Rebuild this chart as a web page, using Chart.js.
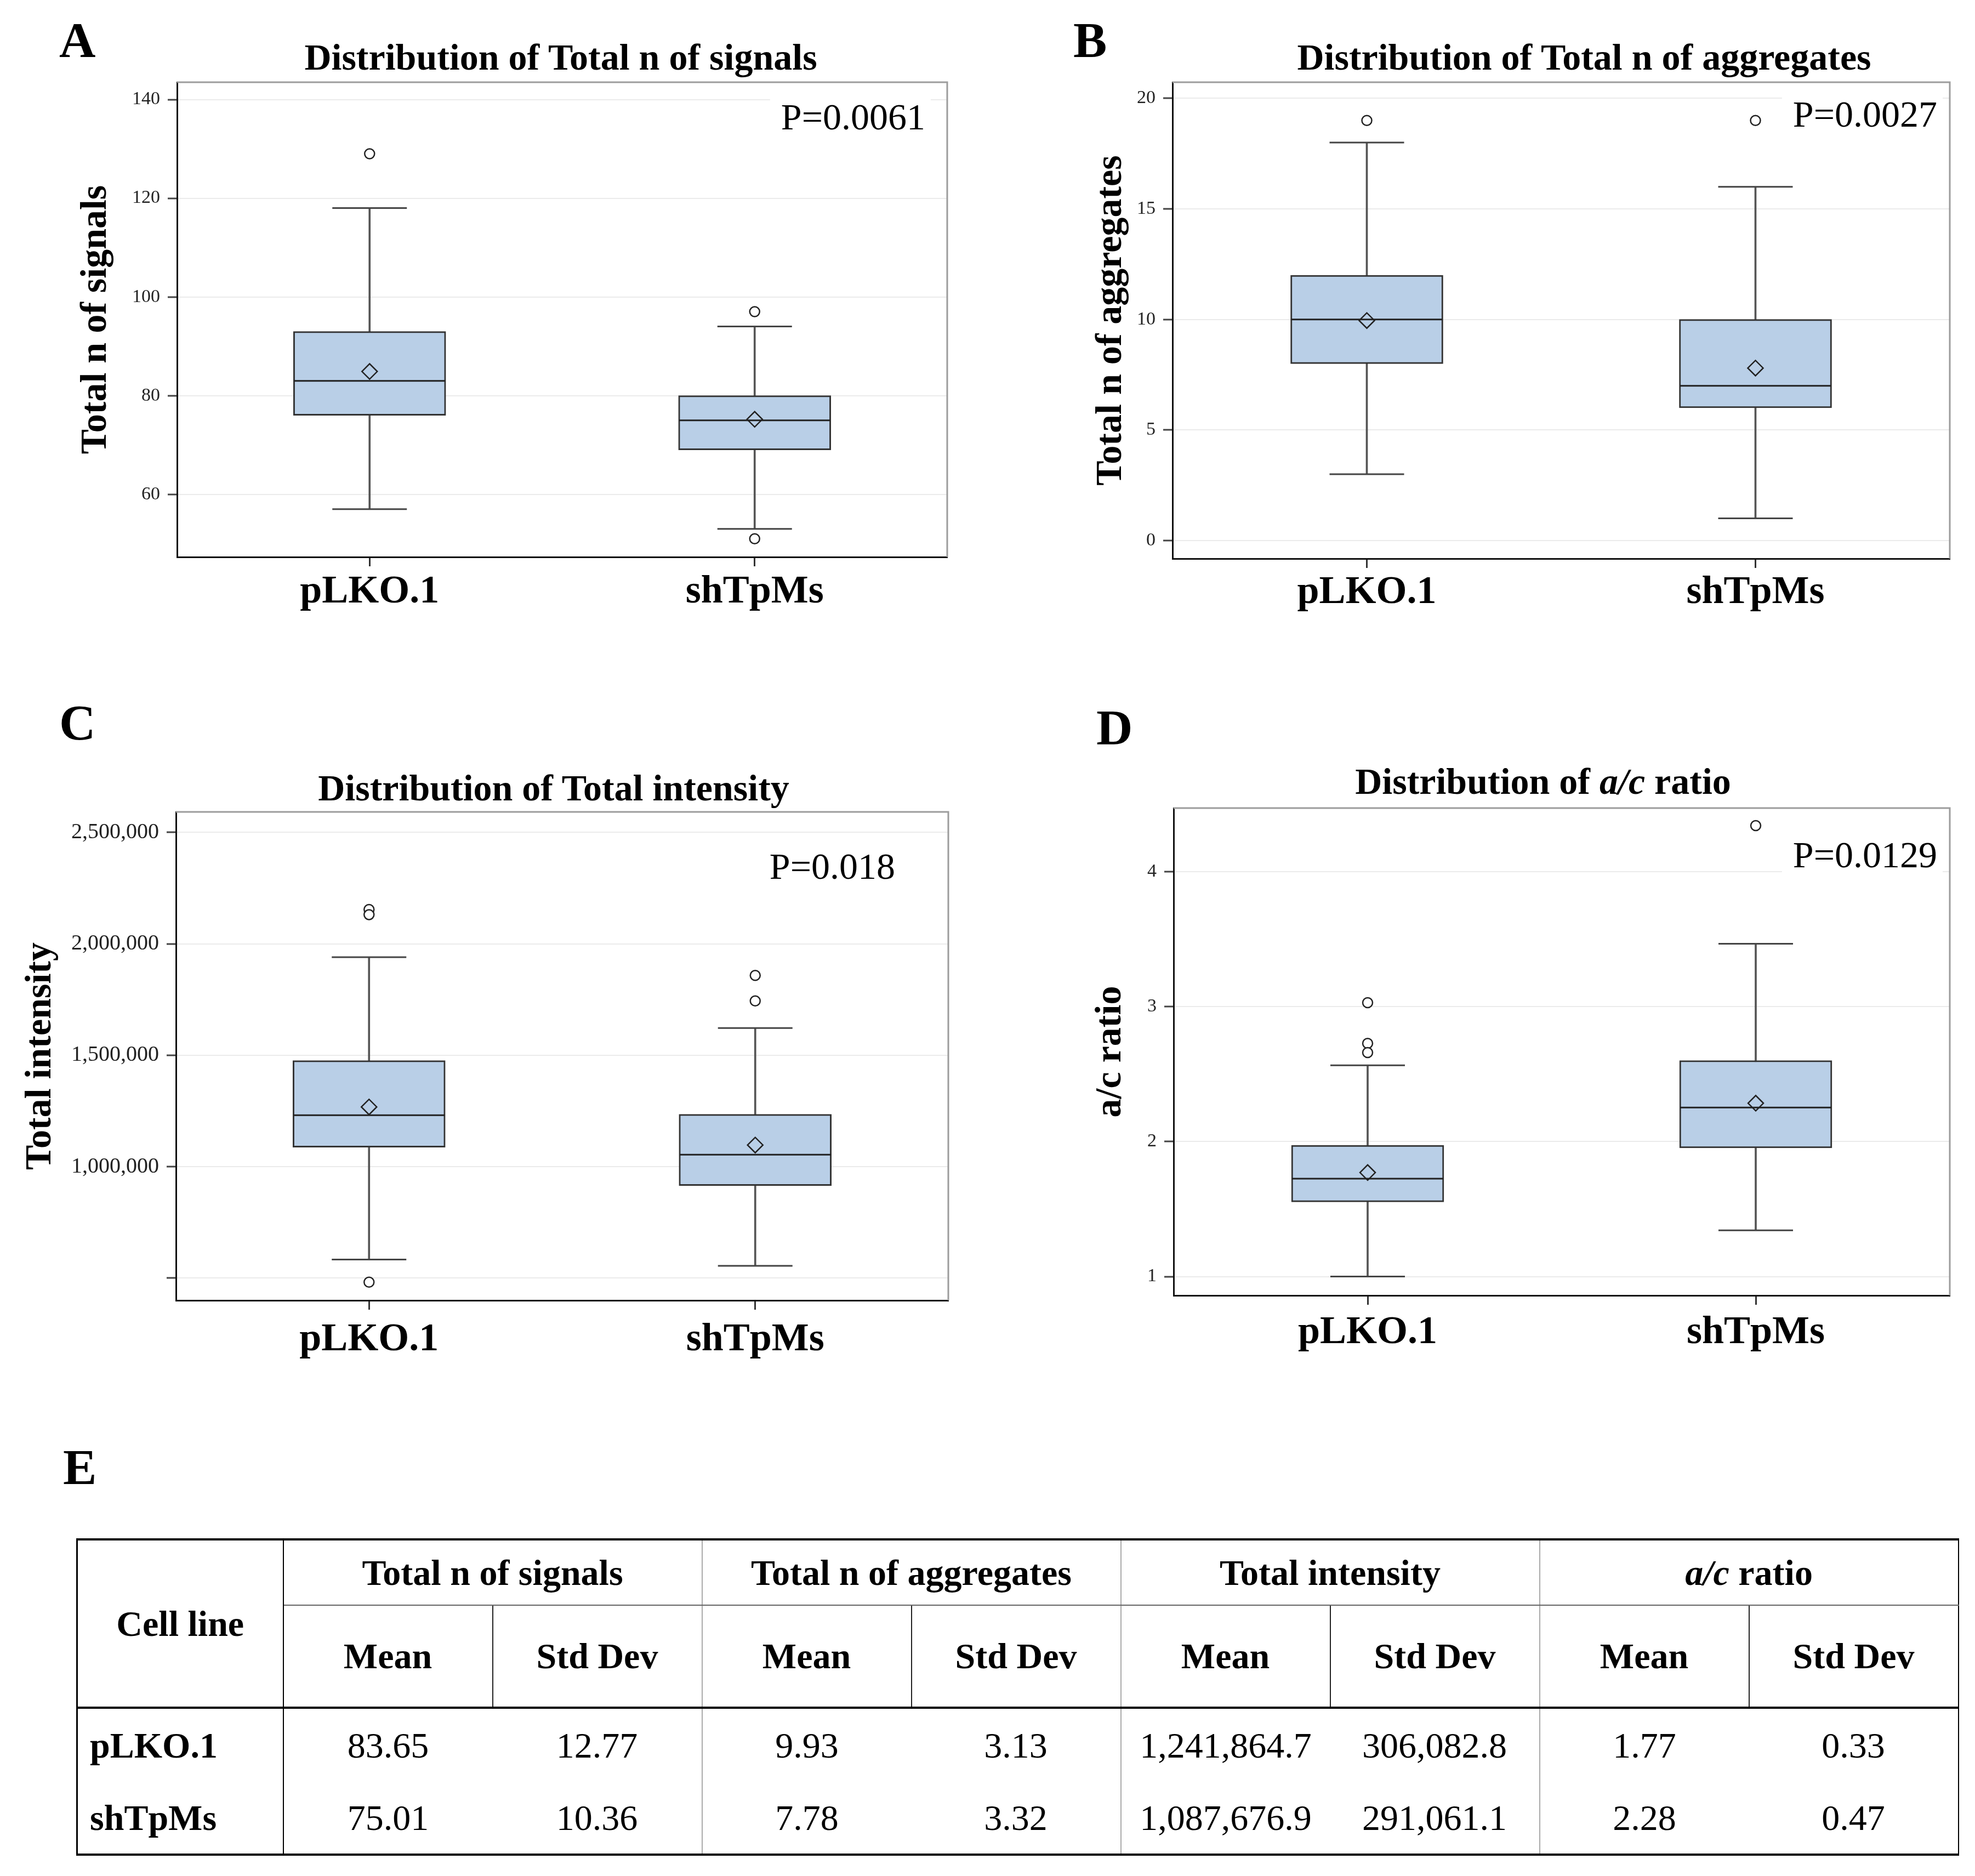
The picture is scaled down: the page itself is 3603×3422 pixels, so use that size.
<!DOCTYPE html>
<html>
<head>
<meta charset="utf-8">
<title>TpMs distributions</title>
<script src="https://cdn.jsdelivr.net/npm/chart.js@4.4.1/dist/chart.umd.min.js"></script>
<style>
  html, body { margin: 0; padding: 0; background: #fff; }
  body { width: 3603px; height: 3422px; position: relative; overflow: hidden;
         font-family: 'Liberation Serif', 'Times New Roman', serif; color: #000; }
  canvas { position: absolute; }
  .letter { position: absolute; font-weight: bold; font-size: 92px; line-height: 92px; }
  .title { position: absolute; font-weight: bold; font-size: 68px; line-height: 68px;
           white-space: nowrap; transform: translateX(-50%); }
  #stats { position: absolute; left: 139px; top: 2806px; width: 3434px; table-layout: fixed;
           border-collapse: collapse; font-size: 66px;
           border-top: 4px solid #000; border-bottom: 4px solid #000;
           border-left: 3px solid #000; border-right: 2px solid #000; }
  #stats td, #stats th { padding: 0; text-align: center; vertical-align: middle; white-space: nowrap; }
  #stats th { font-weight: bold; }
  #stats .first { border-right: 2px solid #000; }
  #stats .name { text-align: left; padding-left: 22px; }
  #stats .grp { border-right: 2px solid #aaa; }
  #stats .h1 th { border-bottom: 2px solid #666; }
  #stats .h2 th { border-bottom: 4px solid #000; }
  #stats .h2 .sub { border-right: 2px solid #222; }
</style>
</head>
<body>

<div class="letter" style="left:108px; top:27px">A</div>
<div class="letter" style="left:1958px; top:27px">B</div>
<div class="letter" style="left:108px; top:1272px">C</div>
<div class="letter" style="left:2000px; top:1281px">D</div>
<div class="letter" style="left:115px; top:2630px">E</div>

<div class="title" style="left:1023px; top:70px">Distribution of Total n of signals</div>
<div class="title" style="left:2890px; top:70px">Distribution of Total n of aggregates</div>
<div class="title" style="left:1010px; top:1403px">Distribution of Total intensity</div>
<div class="title" style="left:2815px; top:1391px">Distribution of <i>a/c</i> ratio</div>

<canvas id="chartA" width="1760" height="1140" style="left:0px; top:0px"></canvas>
<canvas id="chartB" width="1790" height="1140" style="left:1800px; top:0px"></canvas>
<canvas id="chartC" width="1762" height="1206" style="left:0px; top:1290px"></canvas>
<canvas id="chartD" width="1790" height="1197" style="left:1800px; top:1290px"></canvas>

<table id="stats"></table>

<script>
const groups = ['pLKO.1', 'shTpMs'];
const pValues = ['P=0.0061', 'P=0.0027', 'P=0.018', 'P=0.0129'];

// A - Total n of signals
const signalsMin = [57, 53];
const signalsQ1 = [76, 69];
const signalsMedian = [83, 75];
const signalsQ3 = [93, 80];
const signalsMax = [118, 94];
const signalsMean = [84.9, 75.2];
const signalsOutliers = [[129], [97, 51]];
const signalsTicks = [60, 80, 100, 120, 140];
const signalsTickLabels = ['60', '80', '100', '120', '140'];
const signalsRange = [47.3, 143.5];

// B - Total n of aggregates
const aggMin = [3, 1];
const aggQ1 = [8, 6];
const aggMedian = [10, 7];
const aggQ3 = [12, 10];
const aggMax = [18, 16];
const aggMean = [9.95, 7.8];
const aggOutliers = [[19], [19]];
const aggTicks = [0, 5, 10, 15, 20];
const aggTickLabels = ['0', '5', '10', '15', '20'];
const aggRange = [-0.82, 20.73];

// C - Total intensity
const intMin = [583000, 555000];
const intQ1 = [1087000, 915000];
const intMedian = [1231000, 1054000];
const intQ3 = [1476000, 1235000];
const intMax = [1940000, 1622000];
const intMean = [1268000, 1097000];
const intOutliers = [[2154000, 2131000, 482000], [1858000, 1744000]];
const intTicks = [500000, 1000000, 1500000, 2000000, 2500000];
const intTickLabels = ['', '1,000,000', '1,500,000', '2,000,000', '2,500,000'];
const intRange = [400000, 2592000];

// D - a/c ratio
const ratioMin = [1.0, 1.342];
const ratioQ1 = [1.553, 1.953];
const ratioMedian = [1.725, 2.253];
const ratioQ3 = [1.973, 2.601];
const ratioMax = [2.565, 3.466];
const ratioMean = [1.771, 2.285];
const ratioOutliers = [[3.03, 2.728, 2.66], [4.342]];
const ratioTicks = [1, 2, 3, 4];
const ratioTickLabels = ['1', '2', '3', '4'];
const ratioRange = [0.86, 4.472];

// E - table
const cellLines = ['pLKO.1', 'shTpMs'];
const statHeaders = ['Total n of signals', 'Total n of aggregates', 'Total intensity', 'a/c ratio'];
const subHeaders = ['Mean', 'Std Dev'];
const pLKOStats = ['83.65', '12.77', '9.93', '3.13', '1,241,864.7', '306,082.8', '1.77', '0.33'];
const shTpMsStats = ['75.01', '10.36', '7.78', '3.32', '1,087,676.9', '291,061.1', '2.28', '0.47'];

const fontFamily = "'Liberation Serif', 'Times New Roman', serif";

// gray top/right frame + P value text
const framePlugin = {
  id: 'frame',
  afterDraw(chart, args, opts) {
    const ctx = chart.ctx;
    const a = chart.chartArea;
    ctx.save();
    ctx.strokeStyle = '#9c9c9c';
    ctx.lineWidth = 3;
    ctx.beginPath();
    ctx.moveTo(a.left, a.top);
    ctx.lineTo(a.right, a.top);
    ctx.lineTo(a.right, a.bottom);
    ctx.stroke();

    ctx.font = '68px ' + fontFamily;
    const w = ctx.measureText(opts.text).width;
    const x = a.right - opts.right;
    const y = a.top + opts.base;
    ctx.fillStyle = '#fff';
    ctx.fillRect(x - w - 20, y - 75, w + 30, 90);
    ctx.fillStyle = '#000';
    ctx.textAlign = 'right';
    ctx.textBaseline = 'alphabetic';
    ctx.fillText(opts.text, x, y);
    ctx.restore();
  }
};

function boxDatasets(s) {
  const caps = [];
  const dots = [];
  groups.forEach((g, i) => {
    caps.push({x: g, y: s.min[i]}, {x: g, y: s.max[i]});
    s.outliers[i].forEach(v => dots.push({x: g, y: v}));
  });
  return [
    { // whiskers
      type: 'bar', order: 3,
      data: s.min.map((v, i) => [v, s.max[i]]),
      backgroundColor: '#555', barThickness: 3
    },
    { // boxes
      type: 'bar', order: 2,
      data: s.q1.map((v, i) => [v, s.q3[i]]),
      backgroundColor: '#b9cfe7', borderColor: '#333', borderWidth: 3,
      borderSkipped: false, barThickness: 278
    },
    { // whisker caps
      type: 'line', order: 1, data: caps, showLine: false,
      pointStyle: 'line', pointRadius: 68, borderColor: '#444',
      pointBorderColor: '#444', pointBorderWidth: 3
    },
    { // median
      type: 'line', order: 1, data: s.median, showLine: false,
      pointStyle: 'line', pointRadius: 138, borderColor: '#222',
      pointBorderColor: '#222', pointBorderWidth: 3
    },
    { // mean
      type: 'line', order: 0, data: s.mean, showLine: false,
      pointStyle: 'rectRot', pointRadius: 14, borderColor: '#222',
      pointBackgroundColor: 'rgba(0,0,0,0)', pointBorderColor: '#222', pointBorderWidth: 2.5
    },
    { // outliers
      type: 'line', order: 0, data: dots, showLine: false,
      pointStyle: 'circle', pointRadius: 9, borderColor: '#222',
      pointBackgroundColor: '#fff', pointBorderColor: '#222', pointBorderWidth: 2.5
    }
  ];
}

function makeChart(id, s, L) {
  return new Chart(document.getElementById(id), {
    type: 'bar',
    data: { labels: groups, datasets: boxDatasets(s) },
    options: {
      responsive: false,
      animation: false,
      layout: { autoPadding: false, padding: { top: L.padTop, right: L.padRight, left: 0, bottom: 0 } },
      datasets: { bar: { grouped: false } },
      plugins: {
        legend: { display: false },
        tooltip: { enabled: false },
        frame: { text: s.p, right: L.pRight, base: L.pBase }
      },
      scales: {
        x: {
          type: 'category', offset: true,
          grid: { display: true, drawOnChartArea: false, offset: false, tickLength: 17, tickColor: '#333', tickWidth: 3 },
          border: { display: true, color: '#111', width: 3 },
          ticks: { color: '#000', padding: L.xPad, font: { family: fontFamily, size: 72, weight: 'bold', lineHeight: 1 } },
          afterFit: axis => { axis.height = L.xAxisH; }
        },
        y: {
          type: 'linear', min: s.range[0], max: s.range[1],
          afterBuildTicks: axis => { axis.ticks = s.ticks.map(v => ({ value: v })); },
          ticks: {
            color: '#222', padding: 14,
            font: { family: fontFamily, size: L.tickSize, lineHeight: 1 },
            callback: (v, i) => s.tickLabels[i]
          },
          grid: { color: '#ebebeb', lineWidth: 2, tickLength: 17, tickColor: '#444', tickWidth: 3 },
          border: { display: true, color: '#111', width: 3 },
          title: {
            display: true, text: s.yTitle, color: '#000',
            font: { family: fontFamily, size: 68, weight: 'bold', lineHeight: 1 },
            padding: { top: L.yTitlePad, bottom: 0 }
          },
          afterFit: axis => { axis.width = L.yAxisW; }
        }
      }
    },
    plugins: [framePlugin]
  });
}

makeChart('chartA', {
  min: signalsMin, q1: signalsQ1, median: signalsMedian, q3: signalsQ3, max: signalsMax,
  mean: signalsMean, outliers: signalsOutliers, ticks: signalsTicks, tickLabels: signalsTickLabels,
  range: signalsRange, yTitle: 'Total n of signals', p: pValues[0]
}, { padTop: 150, padRight: 32, yAxisW: 323, xAxisH: 124, yTitlePad: 141, xPad: 11, pRight: 40, pBase: 86, tickSize: 34 });

makeChart('chartB', {
  min: aggMin, q1: aggQ1, median: aggMedian, q3: aggQ3, max: aggMax,
  mean: aggMean, outliers: aggOutliers, ticks: aggTicks, tickLabels: aggTickLabels,
  range: aggRange, yTitle: 'Total n of aggregates', p: pValues[1]
}, { padTop: 150, padRight: 33, yAxisW: 339, xAxisH: 121, yTitlePad: 193, xPad: 9, pRight: 23, pBase: 81, tickSize: 34 });

makeChart('chartC', {
  min: intMin, q1: intQ1, median: intMedian, q3: intQ3, max: intMax,
  mean: intMean, outliers: intOutliers, ticks: intTicks, tickLabels: intTickLabels,
  range: intRange, yTitle: 'Total intensity', p: pValues[2]
}, { padTop: 191, padRight: 32, yAxisW: 321, xAxisH: 124, yTitlePad: 40, xPad: 19, pRight: 97, pBase: 122, tickSize: 40 });

makeChart('chartD', {
  min: ratioMin, q1: ratioQ1, median: ratioMedian, q3: ratioQ3, max: ratioMax,
  mean: ratioMean, outliers: ratioOutliers, ticks: ratioTicks, tickLabels: ratioTickLabels,
  range: ratioRange, yTitle: 'a/c ratio', p: pValues[3]
}, { padTop: 184, padRight: 33, yAxisW: 341, xAxisH: 124, yTitlePad: 192, xPad: 15, pRight: 23, pBase: 108, tickSize: 34 });

// summary table
const table = document.getElementById('stats');
let html = '<colgroup><col style="width:376px">';
for (let i = 0; i < 8; i++) html += '<col style="width:382px">';
html += '</colgroup>';
html += '<tr class="h1" style="height:120px"><th rowspan="2" class="first" style="border-bottom:4px solid #000">Cell line</th>';
statHeaders.forEach((h, i) => {
  const txt = h === 'a/c ratio' ? '<i>a/c</i> ratio' : h;
  html += '<th colspan="2"' + (i < 3 ? ' class="grp"' : '') + '>' + txt + '</th>';
});
html += '</tr><tr class="h2" style="height:187px">';
statHeaders.forEach((h, i) => {
  html += '<th class="sub">' + subHeaders[0] + '</th>';
  html += '<th' + (i < 3 ? ' class="grp"' : '') + '>' + subHeaders[1] + '</th>';
});
html += '</tr>';
const tableRows = [pLKOStats, shTpMsStats];
const rowHeights = [136, 132];
tableRows.forEach((row, r) => {
  html += '<tr style="height:' + rowHeights[r] + 'px"><th class="first name">' + cellLines[r] + '</th>';
  row.forEach((v, i) => {
    html += '<td' + (i % 2 === 1 && i < 7 ? ' class="grp"' : '') + '>' + v + '</td>';
  });
  html += '</tr>';
});
table.innerHTML = html;
</script>
</body>
</html>
